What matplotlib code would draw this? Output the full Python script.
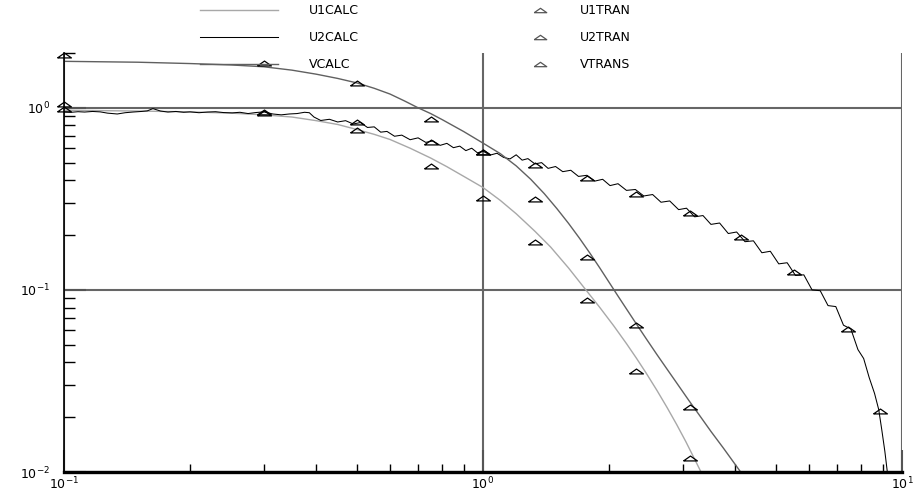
import matplotlib
matplotlib.use("Agg")
import matplotlib.pyplot as plt
from matplotlib.lines import Line2D

# berechnete Kurven
x_u1calc = [0.1, 0.15, 0.2, 0.25, 0.3, 0.35, 0.4, 0.45, 0.5, 0.55, 0.6, 0.67, 0.75, 0.82, 0.9, 1.0, 1.1, 1.2,
            1.33, 1.45, 1.6, 1.76, 1.9, 2.05, 2.2, 2.32, 2.45, 2.6, 2.75, 2.9, 3.05, 3.24, 3.35]
y_u1calc = [0.97, 0.96, 0.95, 0.935, 0.915, 0.89, 0.85, 0.81, 0.76, 0.715, 0.67, 0.60, 0.53, 0.475, 0.42, 0.365,
            0.31, 0.262, 0.21, 0.172, 0.132, 0.1, 0.0801, 0.0636, 0.0507, 0.0424, 0.0350, 0.0281, 0.0226, 0.0182,
            0.01465, 0.0111, 0.0095]

x_vcalc = [0.1, 0.15, 0.2, 0.25, 0.3, 0.35, 0.4, 0.45, 0.5, 0.55, 0.6, 0.65, 0.7, 0.75, 0.8, 0.9, 1.0, 1.1,
           1.2, 1.3, 1.4, 1.5, 1.6, 1.7, 1.8, 1.9, 2.0, 2.1, 2.2, 2.32, 2.45, 2.6, 2.75, 2.9, 3.1, 3.3,
           3.5, 3.75, 4.07, 4.2]
y_vcalc = [1.80, 1.78, 1.75, 1.72, 1.68, 1.61, 1.53, 1.45, 1.37, 1.28, 1.19, 1.09, 1.0, 0.93, 0.86, 0.74, 0.64,
           0.56, 0.48, 0.405, 0.338, 0.280, 0.232, 0.192, 0.159, 0.132, 0.110, 0.0925, 0.0786, 0.0653, 0.0541,
           0.0442, 0.0367, 0.0308, 0.0247, 0.0202, 0.0167, 0.0135, 0.0104, 0.0094]

x_u2calc = [0.100, 0.104, 0.108, 0.112, 0.117, 0.122, 0.127, 0.134, 0.140, 0.146, 0.153, 0.158, 0.163, 0.170,
            0.177, 0.185, 0.193, 0.200, 0.210, 0.220, 0.230, 0.240, 0.252, 0.263, 0.275, 0.287, 0.300, 0.315,
            0.330, 0.345, 0.360, 0.375, 0.385, 0.395, 0.410, 0.430, 0.450, 0.470, 0.490, 0.510, 0.530, 0.550,
            0.570, 0.590, 0.615, 0.640, 0.670, 0.700, 0.730, 0.760, 0.790, 0.820, 0.850, 0.880, 0.910, 0.940,
            0.970, 1.000, 1.040, 1.080, 1.120, 1.160, 1.200, 1.240, 1.280, 1.330, 1.380, 1.430, 1.490, 1.550,
            1.620, 1.690, 1.770, 1.850, 1.930, 2.010, 2.100, 2.200, 2.310, 2.420, 2.540, 2.660, 2.790, 2.930,
            3.060, 3.200, 3.350, 3.500, 3.670, 3.850, 4.030, 4.220, 4.420, 4.630, 4.850, 5.080, 5.320, 5.570,
            5.830, 6.100, 6.380, 6.660, 6.950, 7.250, 7.550, 7.850, 8.100, 8.350, 8.600, 8.800, 8.950, 9.100, 9.250]
y_u2calc = [0.950, 0.945, 0.952, 0.948, 0.955, 0.950, 0.935, 0.925, 0.940, 0.948, 0.955, 0.962, 0.990, 0.960,
            0.948, 0.955, 0.945, 0.950, 0.940, 0.948, 0.952, 0.942, 0.938, 0.945, 0.930, 0.942, 0.950, 0.925,
            0.915, 0.925, 0.930, 0.945, 0.940, 0.890, 0.852, 0.865, 0.836, 0.850, 0.815, 0.830, 0.780, 0.786,
            0.735, 0.742, 0.698, 0.708, 0.668, 0.684, 0.646, 0.658, 0.622, 0.638, 0.604, 0.616, 0.582, 0.600,
            0.566, 0.578, 0.550, 0.563, 0.534, 0.524, 0.552, 0.516, 0.526, 0.492, 0.500, 0.465, 0.476, 0.446,
            0.454, 0.420, 0.426, 0.396, 0.405, 0.374, 0.383, 0.352, 0.356, 0.328, 0.334, 0.303, 0.308, 0.276,
            0.281, 0.252, 0.256, 0.229, 0.233, 0.204, 0.208, 0.184, 0.186, 0.160, 0.163, 0.139, 0.141, 0.120,
            0.121, 0.100, 0.099, 0.082, 0.081, 0.064, 0.061, 0.047, 0.042, 0.033, 0.027, 0.022, 0.017, 0.013, 0.0095]

# Transientwerte (Dreiecke)
x_tran = [0.1, 0.3, 0.5, 0.75, 1.0, 1.33, 1.77, 2.32, 3.12, 4.12, 5.51, 7.42, 8.87]
u1_tran = [0.99, 0.94, 0.76, 0.48, 0.32, 0.184, 0.088, 0.036, 0.012]
u2_tran = [1.05, 0.95, 0.84, 0.65, 0.57, 0.486, 0.41, 0.337, 0.265, 0.196, 0.126, 0.061, 0.0217]
v_tran = [1.96, 1.77, 1.37, 0.87, 0.57, 0.316, 0.152, 0.064, 0.0228]

plt.rcParams['font.family'] = ['DejaVu Sans']
plt.rcParams['mathtext.fontset'] = 'dejavusans'

fig = plt.figure(figsize=(9.17, 4.98), dpi=100)
ax = fig.add_axes([64/917, 26/498, 838/917, 419/498])

tri = [(-1, -0.35), (1, -0.35), (0, 0.35), (-1, -0.35)]

l1, = ax.plot(x_u1calc, y_u1calc, color='#a8a8a8', lw=1.0)
l2, = ax.plot(x_u2calc, y_u2calc, color='black', lw=0.75)
l3, = ax.plot(x_vcalc, y_vcalc, color='#606060', lw=1.0)

mk = dict(ls='none', marker=tri, ms=10, mfc='none', mec='black', mew=0.9, clip_on=False, zorder=5)
m1, = ax.plot(x_tran[:len(u1_tran)], u1_tran, **mk)
m2, = ax.plot(x_tran[:len(u2_tran)], u2_tran, **mk)
m3, = ax.plot(x_tran[:len(v_tran)], v_tran, **mk)

ax.set_xscale('log')
ax.set_yscale('log')
ax.set_xlim(0.1, 10)
ax.set_ylim(0.01, 2.0)

ax.grid(which='major', color='#666666', lw=1.5)
for s in ['top', 'right']:
    ax.spines[s].set_visible(False)
ax.spines['left'].set_linewidth(1.2)
ax.spines['bottom'].set_linewidth(2.4)
ax.tick_params(which='major', direction='in', length=16, width=1.5, color='#555555', labelsize=9)
ax.tick_params(which='minor', direction='in', length=7.7, width=1.0, color='black')
ax.tick_params(axis='x', which='minor', length=6)
ax.tick_params(axis='y', pad=10)
ax.tick_params(axis='x', pad=3)

# Legende in zwei Spalten
leg1 = fig.legend([l1, l2, l3], ['U1CALC', 'U2CALC', 'VCALC'], loc='upper left',
                  bbox_to_anchor=(200/917, 1 - 4/498), frameon=False, fontsize=9,
                  handlelength=6.2, handletextpad=2.5, labelspacing=1.12, borderpad=0, borderaxespad=0)
lm1 = Line2D([], [], ls='none', marker=tri, ms=9, mfc='none', mec='#555555', mew=0.9)
lm2 = Line2D([], [], ls='none', marker=tri, ms=9, mfc='none', mec='#555555', mew=0.9)
lm3 = Line2D([], [], ls='none', marker=tri, ms=9, mfc='none', mec='#555555', mew=0.9)
leg2 = fig.legend([lm1, lm2, lm3], ['U1TRAN', 'U2TRAN', 'VTRANS'], loc='upper left',
                  bbox_to_anchor=(527/917, 1 - 4/498), frameon=False, fontsize=9,
                  handlelength=2.0, handletextpad=2.2, labelspacing=1.12, borderpad=0, borderaxespad=0)

fig.savefig('out.png', dpi=100)
